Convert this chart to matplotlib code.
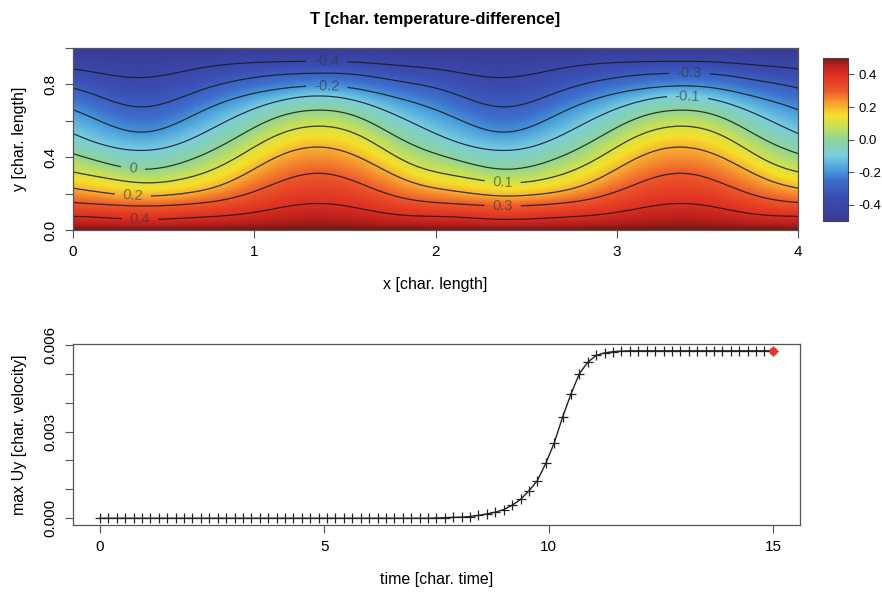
import numpy as np
import matplotlib
matplotlib.use("Agg")
import matplotlib.pyplot as plt
from matplotlib.colors import LinearSegmentedColormap

plt.rcParams['font.family'] = ['Liberation Sans', 'DejaVu Sans']
plt.rcParams['axes.unicode_minus'] = False
plt.rcParams['contour.negative_linestyle'] = 'solid'

# ---- top panel: contour heights of T read at stations along x (period 2) ----
levels = [-0.4, -0.3, -0.2, -0.1, 0.0, 0.1, 0.2, 0.3, 0.4]
stations_x = [0.1, 0.35, 0.6, 0.85, 1.1, 1.35, 1.6, 1.85]
period = 2.0
# y position of each contour line at each station (rows follow levels)
contour_y = [
    [0.870, 0.838, 0.870, 0.910, 0.924, 0.927, 0.920, 0.900],
    [0.750, 0.678, 0.730, 0.810, 0.850, 0.862, 0.850, 0.810],
    [0.620, 0.539, 0.600, 0.710, 0.770, 0.792, 0.770, 0.710],
    [0.490, 0.438, 0.480, 0.600, 0.700, 0.737, 0.700, 0.600],
    [0.390, 0.336, 0.370, 0.480, 0.610, 0.659, 0.610, 0.480],
    [0.300, 0.262, 0.280, 0.370, 0.510, 0.571, 0.510, 0.370],
    [0.215, 0.188, 0.200, 0.260, 0.390, 0.456, 0.390, 0.270],
    [0.145, 0.133, 0.140, 0.170, 0.250, 0.312, 0.250, 0.170],
    [0.072, 0.059, 0.065, 0.080, 0.115, 0.146, 0.115, 0.080],
]
T_bottom, T_top = 0.5, -0.5
label_pos = [(1.40, 0.924), (1.40, 0.79), (0.33, 0.337), (0.33, 0.19),
             (0.37, 0.06), (3.40, 0.862), (3.39, 0.72), (2.37, 0.26),
             (2.37, 0.13)]

# ---- bottom panel: max Uy over time ----
time = np.linspace(0, 15, 81)
max_uy = [
    0, 0, 0, 0, 0, 0, 0, 0, 0, 0,
    0, 0, 0, 0, 0, 0, 0, 0, 0, 0,
    0, 0, 0, 0, 0, 0, 0, 0, 0, 0,
    0, 0, 0, 0, 0, 0, 0, 0, 0, 0,
    0.00001, 0.00002, 0.00003, 0.00004, 0.00006, 0.0001, 0.00015, 0.00021,
    0.0003, 0.00045, 0.00065, 0.00095, 0.0013, 0.0019, 0.0026, 0.0035,
    0.0043, 0.0050, 0.0054, 0.00563, 0.00572, 0.00576, 0.00578,
    0.00579, 0.00579, 0.00579, 0.00579, 0.00579, 0.00579, 0.00579, 0.00579,
    0.00579, 0.00579, 0.00579, 0.00579, 0.00579, 0.00579, 0.00579, 0.00579,
    0.00579, 0.00579,
]


def periodic_interp(xq, xs, vals, per):
    # trigonometric interpolation through equally spaced stations
    vals = np.asarray(vals, float)
    n = len(vals)
    c = np.fft.rfft(vals) / n
    th = 2 * np.pi * (xq - xs[0]) / per
    out = np.full_like(xq, c[0].real, dtype=float)
    for k in range(1, len(c)):
        w = 1.0 if (n % 2 == 0 and k == n // 2) else 2.0
        out += w * (c[k].real * np.cos(k * th) - c[k].imag * np.sin(k * th))
    return out


xg = np.linspace(0, 4, 401)
yg = np.linspace(0, 1, 201)
lines = np.array([periodic_interp(xg, stations_x, row, period) for row in contour_y])
T = np.zeros((len(yg), len(xg)))
Ts = np.array([T_bottom] + levels[::-1] + [T_top])
for j in range(len(xg)):
    ys = np.concatenate([[0.0], lines[::-1, j], [1.0]])
    ys = np.maximum.accumulate(ys)
    T[:, j] = np.interp(yg, ys, Ts)

cmap = LinearSegmentedColormap.from_list('tcol', [
    (0.00, '#3b3a96'), (0.15, '#3a4eb4'), (0.25, '#3d6fcc'), (0.32, '#4aa0dc'),
    (0.40, '#78cde0'), (0.50, '#8fd49a'), (0.58, '#c6e056'), (0.65, '#f5e02a'),
    (0.72, '#f7a431'), (0.80, '#ee5a2a'), (0.90, '#dd2e22'), (0.96, '#b8201c'),
    (1.00, '#7a1815')])

fig = plt.figure(figsize=(8.82, 5.93), dpi=100)
ax1 = fig.add_axes([0.0828, 0.612, 0.822, 0.307])
cax = fig.add_axes([0.933, 0.627, 0.028, 0.275])
ax2 = fig.add_axes([0.0828, 0.1147, 0.824, 0.305])

im = ax1.imshow(T, origin='lower', extent=[0, 4, 0, 1], aspect='auto',
                cmap=cmap, vmin=-0.5, vmax=0.5, interpolation='bilinear')
cs = ax1.contour(xg, yg, T, levels=levels, colors='#1a1a1a', linewidths=0.9,
                 alpha=0.85)
lab = ax1.clabel(cs, fmt=lambda v: f'{v:g}', manual=label_pos, fontsize=10.5,
                 inline=True, inline_spacing=8, colors='#333333')
for t in lab:
    t.set_alpha(0.6)
ax1.set_xlim(0, 4)
ax1.set_ylim(0, 1)
ax1.set_xticks([0, 1, 2, 3, 4])
ax1.set_yticks([0, 0.2, 0.4, 0.6, 0.8, 1.0])
ax1.set_yticklabels(['0.0', '', '0.4', '', '0.8', ''], rotation=90, va='center')
ax1.set_xlabel('x [char. length]', fontsize=11.5, labelpad=13)
ax1.set_ylabel('y [char. length]', fontsize=11.5, labelpad=12)
ax1.set_title('T [char. temperature-difference]', fontsize=12,
              fontweight='bold', pad=17)

cb = fig.colorbar(im, cax=cax, ticks=[-0.4, -0.2, 0.0, 0.2, 0.4])
cb.ax.set_yticklabels(['-0.4', '-0.2', '0.0', '0.2', '0.4'])
cb.ax.tick_params(labelsize=9.5, length=4, color='#555555', width=0.8)
cb.outline.set_edgecolor('#444444')
cb.outline.set_linewidth(0.8)

ax2.plot(time, max_uy, color='#222222', lw=1.0, marker='+', ms=7.5, mew=0.9)
ax2.plot(time[-1], max_uy[-1], 'o', color='#ee3322', ms=5)
ax2.set_xlim(-0.6, 15.6)
ax2.set_ylim(-0.000232, 0.006022)
ax2.set_xticks([0, 5, 10, 15])
ax2.set_yticks([0, 0.001, 0.002, 0.003, 0.004, 0.005, 0.006])
ax2.set_yticklabels(['0.000', '', '', '0.003', '', '', '0.006'], rotation=90,
                    va='center')
ax2.set_xlabel('time [char. time]', fontsize=11.5, labelpad=13)
ax2.set_ylabel('max Uy [char. velocity]', fontsize=11.5, labelpad=12)

for ax in (ax1, ax2):
    ax.tick_params(labelsize=11, length=6, width=0.8, color='#555555',
                   direction='out', pad=5)
    for s in ax.spines.values():
        s.set_edgecolor('#555555')
        s.set_linewidth(0.9)

fig.savefig('out.png', dpi=100)
